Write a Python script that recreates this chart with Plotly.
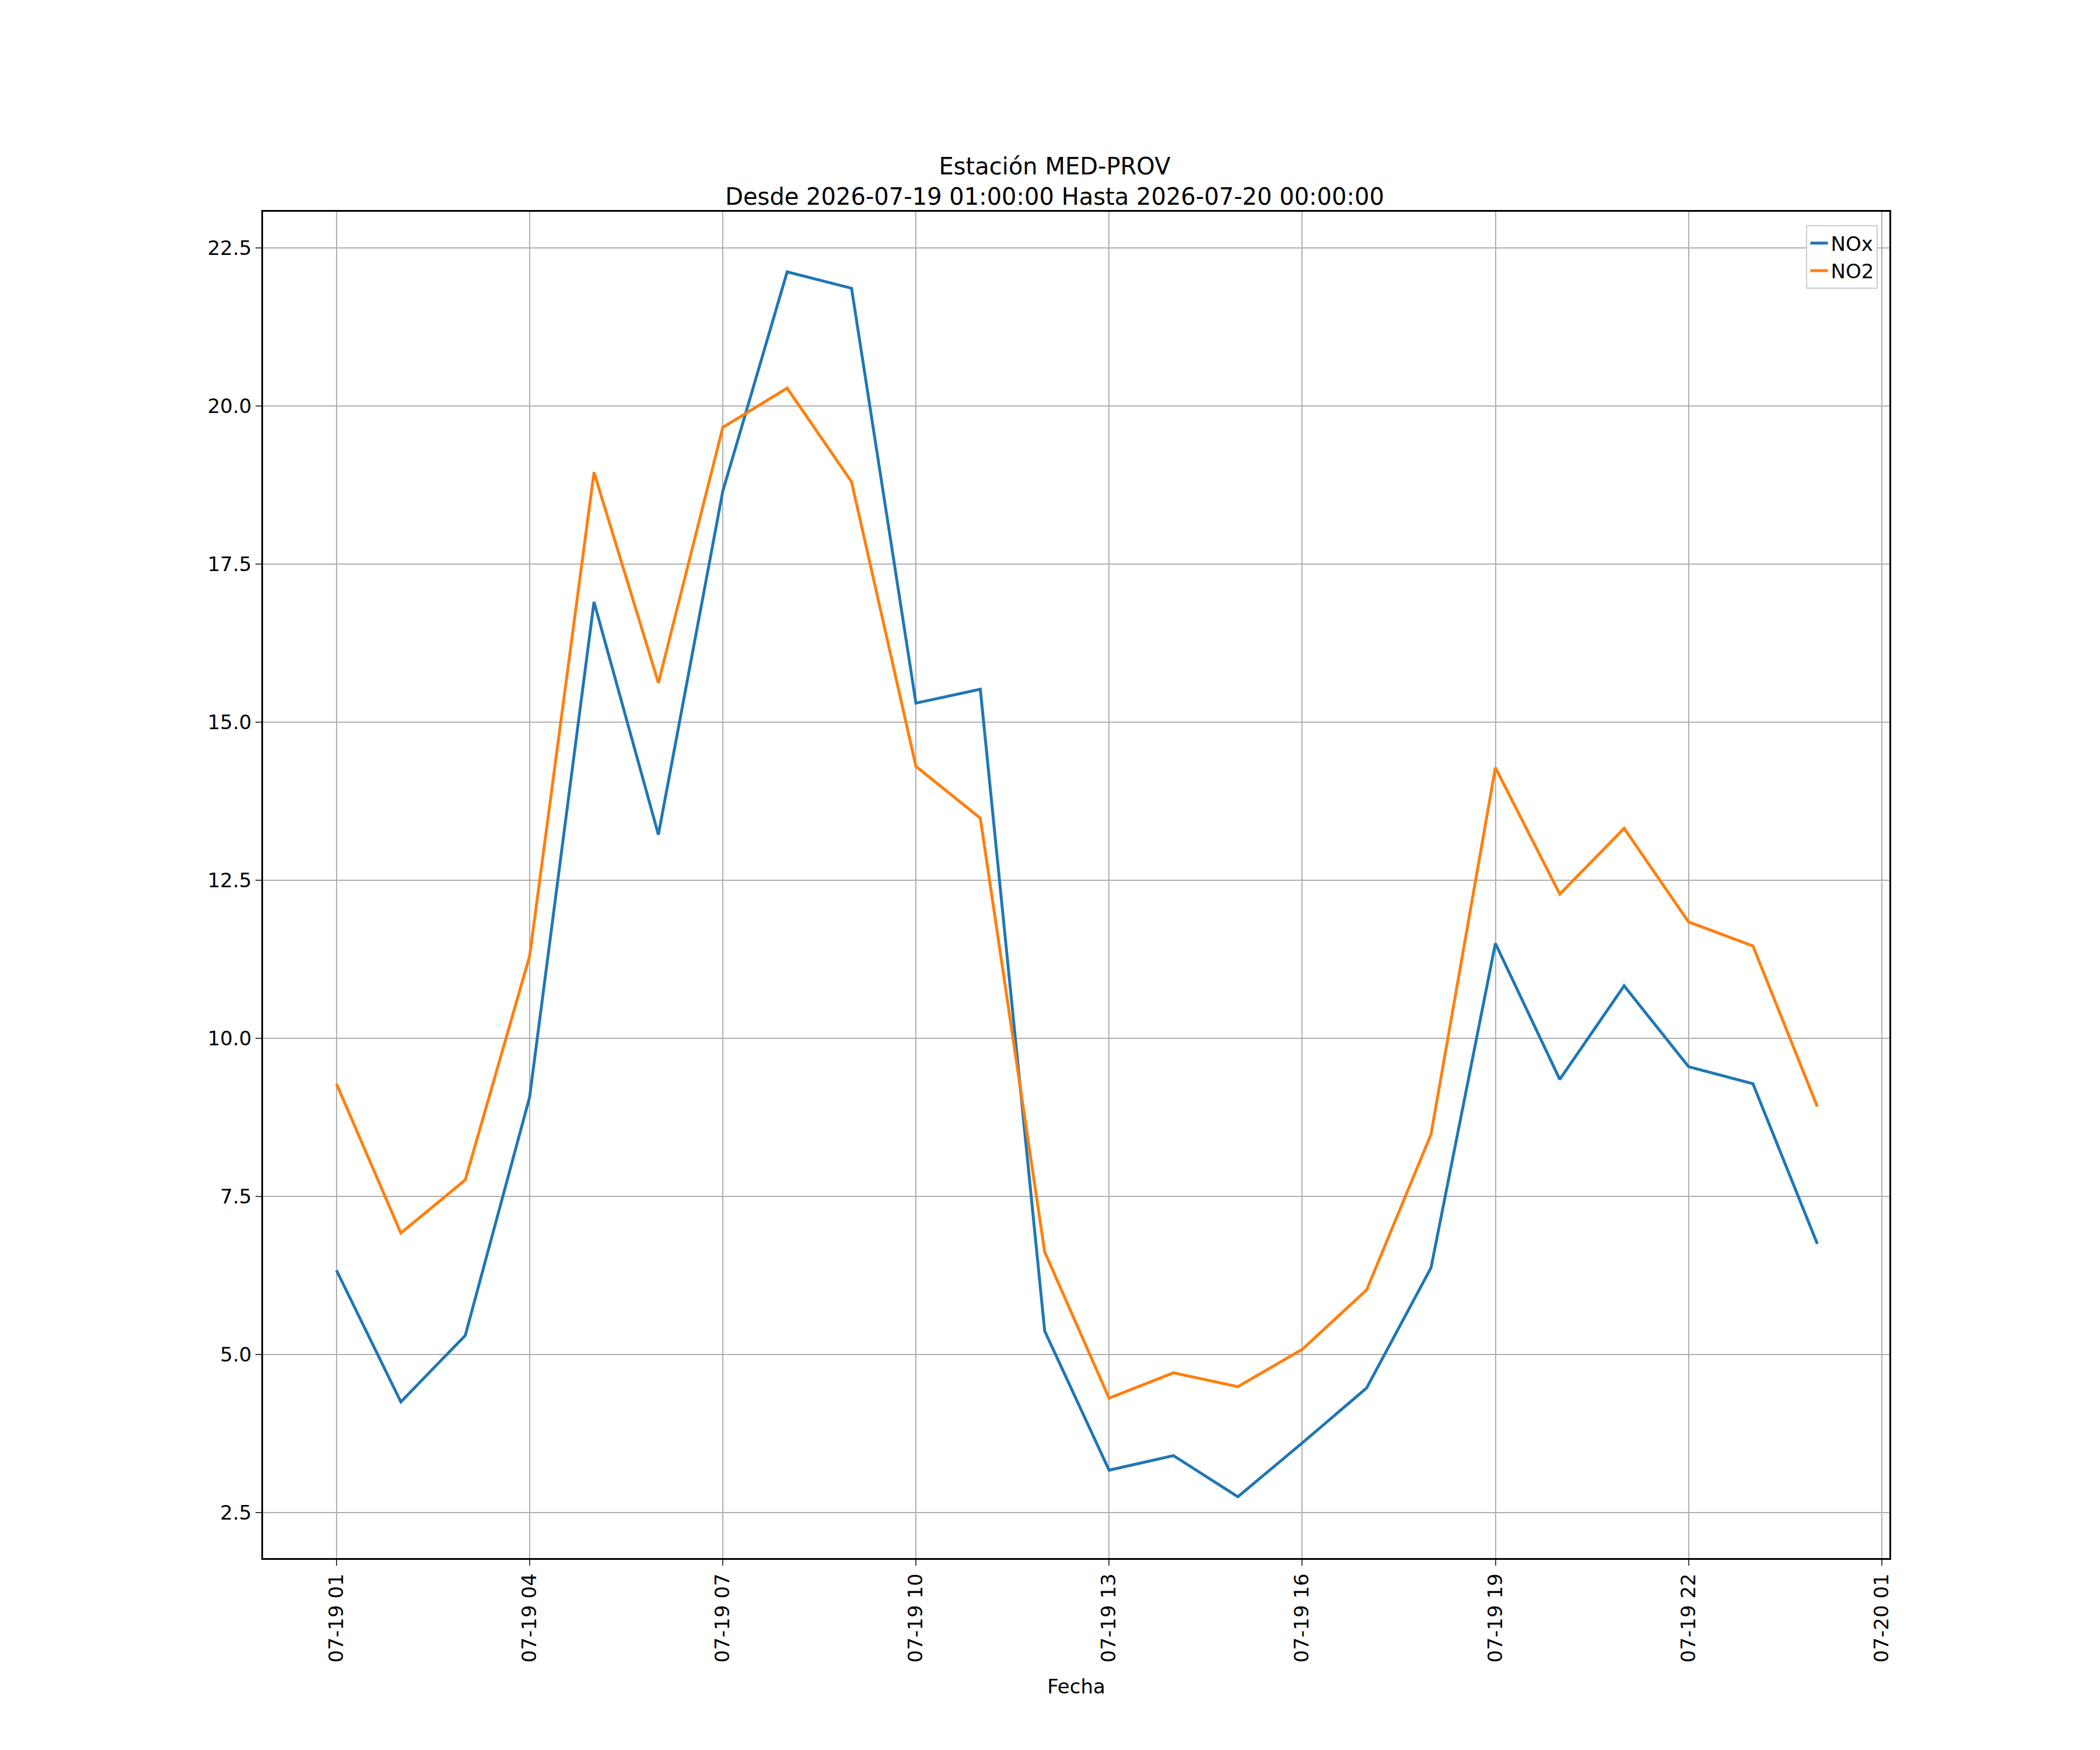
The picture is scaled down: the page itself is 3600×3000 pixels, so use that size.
import plotly.graph_objects as go
import pandas as pd

fechas = pd.date_range("2026-07-19 01:00", "2026-07-20 00:00", freq="h")
nox = [6.33, 4.25, 5.30, 9.07, 16.90, 13.22, 18.65, 22.12, 21.86, 15.30, 15.52, 5.37,
       3.17, 3.40, 2.75, 3.60, 4.47, 6.37, 11.50, 9.35, 10.83, 9.55, 9.28, 6.75]
no2 = [9.28, 6.92, 7.76, 11.30, 18.95, 15.62, 19.66, 20.28, 18.80, 14.30, 13.48, 6.62,
       4.31, 4.71, 4.49, 5.08, 6.02, 8.48, 14.28, 12.28, 13.32, 11.84, 11.46, 8.92]
ticks = pd.date_range("2026-07-19 01:00", "2026-07-20 01:00", freq="3h")

fig = go.Figure()
fig.add_trace(go.Scatter(x=fechas, y=nox, mode="lines", name="NOx", line=dict(color="#1f77b4", width=5)))
fig.add_trace(go.Scatter(x=fechas, y=no2, mode="lines", name="NO2", line=dict(color="#ff7f0e", width=5)))

ax = dict(showline=True, linecolor="black", linewidth=2.5, mirror=True, showgrid=True,
          gridcolor="#b0b0b0", gridwidth=2, ticks="outside", ticklen=10, tickwidth=2,
          zeroline=False, tickfont=dict(size=34))
fig.update_layout(
    width=3600, height=3000,
    paper_bgcolor="white", plot_bgcolor="white",
    font=dict(family="DejaVu Sans", size=34, color="black"),
    margin=dict(l=443, r=369, t=355, b=337),
    title=dict(text="Estación MED-PROV<br>Desde 2026-07-19 01:00:00 Hasta 2026-07-20 00:00:00",
               x=0.5, xanchor="center", yref="container", y=0.903, yanchor="middle",
               font=dict(size=40)),
    xaxis=dict(ax, title=dict(text="Fecha", font=dict(size=34), standoff=30),
               tickvals=list(ticks), ticktext=[t.strftime("%m-%d %H") for t in ticks],
               tickangle=-90,
               range=[pd.Timestamp("2026-07-19 01:00") - pd.Timedelta(hours=1.14),
                      pd.Timestamp("2026-07-19 01:00") + pd.Timedelta(hours=24.12)]),
    yaxis=dict(ax, range=[1.78, 23.07], tickvals=[2.5, 5, 7.5, 10, 12.5, 15, 17.5, 20, 22.5],
               ticktext=["2.5", "5.0", "7.5", "10.0", "12.5", "15.0", "17.5", "20.0", "22.5"]),
    legend=dict(x=0.993, y=0.99, xanchor="right", yanchor="top", bgcolor="white",
                bordercolor="#cccccc", borderwidth=2, font=dict(size=34)),
)
fig.write_html("out.html")
